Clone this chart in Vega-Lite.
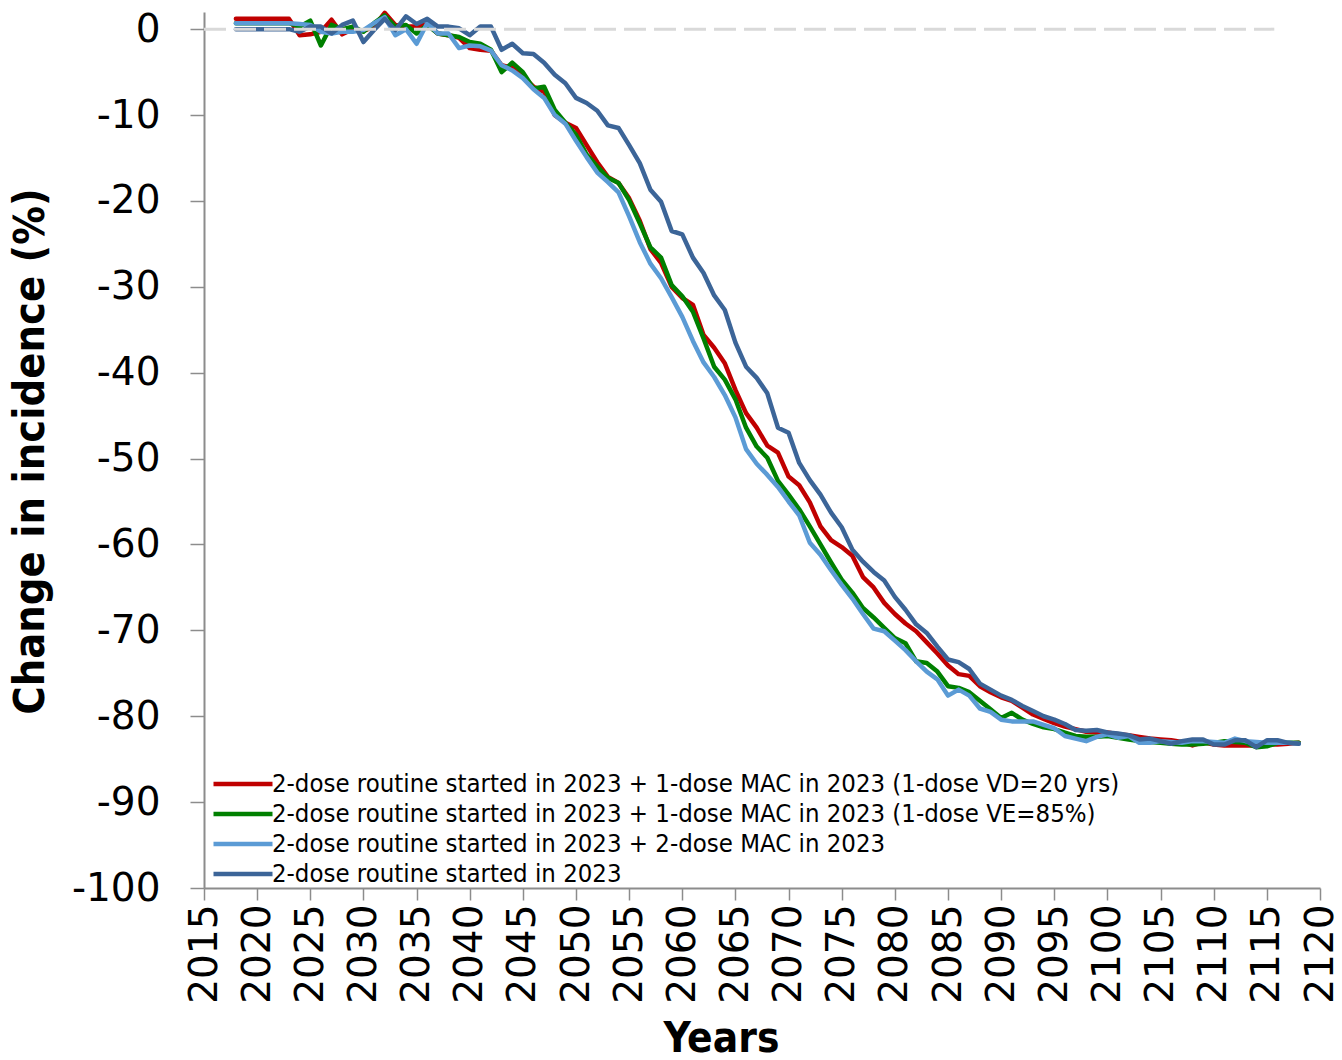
{
  "$schema": "https://vega.github.io/schema/vega-lite/v6.json",
  "width": 1116,
  "height": 876,
  "autosize": {"type": "none"},
  "padding": {"left": 204, "top": 12, "right": 22, "bottom": 172},
  "background": "white",
  "config": {"view": {"stroke": null}, "font": "DejaVu Sans"},
  "layer": [
    {
      "data": {"values": [
        {"year":2018,"a":1.2,"b":0.7,"c":0.7,"d":0.0},
        {"year":2019,"a":1.2,"b":0.7,"c":0.7,"d":0.0},
        {"year":2020,"a":1.2,"b":0.7,"c":0.7,"d":0.0},
        {"year":2021,"a":1.2,"b":0.7,"c":0.7,"d":0.0},
        {"year":2022,"a":1.2,"b":0.7,"c":0.7,"d":0.0},
        {"year":2023,"a":1.2,"b":0.7,"c":0.7,"d":0.0},
        {"year":2024,"a":-0.7,"b":0.3,"c":0.6,"d":-0.3},
        {"year":2025,"a":-0.6,"b":1.0,"c":0.5,"d":0.3},
        {"year":2026,"a":-0.3,"b":-1.9,"c":-0.3,"d":0.3},
        {"year":2027,"a":1.1,"b":0.5,"c":-0.5,"d":-0.5},
        {"year":2028,"a":-0.6,"b":0.0,"c":-0.3,"d":0.5},
        {"year":2029,"a":0.0,"b":0.3,"c":-0.3,"d":1.0},
        {"year":2030,"a":-0.2,"b":-0.3,"c":-0.1,"d":-1.5},
        {"year":2031,"a":0.3,"b":0.7,"c":0.7,"d":-0.1},
        {"year":2032,"a":1.9,"b":1.6,"c":1.4,"d":1.2},
        {"year":2033,"a":0.5,"b":0.3,"c":-0.7,"d":-0.1},
        {"year":2034,"a":0.3,"b":0.5,"c":0.0,"d":1.5},
        {"year":2035,"a":0.3,"b":-0.5,"c":-1.7,"d":0.6},
        {"year":2036,"a":0.6,"b":0.5,"c":0.7,"d":1.2},
        {"year":2037,"a":-0.5,"b":-0.5,"c":-0.5,"d":0.3},
        {"year":2038,"a":-0.7,"b":-0.7,"c":-0.5,"d":0.3},
        {"year":2039,"a":-1.0,"b":-0.9,"c":-2.2,"d":0.1},
        {"year":2040,"a":-2.2,"b":-1.5,"c":-1.9,"d":-0.7},
        {"year":2041,"a":-2.4,"b":-1.7,"c":-2.0,"d":0.3},
        {"year":2042,"a":-2.5,"b":-2.4,"c":-2.5,"d":0.3},
        {"year":2043,"a":-4.2,"b":-5.0,"c":-4.2,"d":-2.4},
        {"year":2044,"a":-4.5,"b":-3.9,"c":-4.8,"d":-1.7},
        {"year":2045,"a":-5.5,"b":-5.0,"c":-5.7,"d":-2.8},
        {"year":2046,"a":-6.7,"b":-6.9,"c":-7.0,"d":-2.9},
        {"year":2047,"a":-7.3,"b":-6.7,"c":-8.0,"d":-3.9},
        {"year":2048,"a":-10.0,"b":-9.4,"c":-10.0,"d":-5.3},
        {"year":2049,"a":-10.9,"b":-10.9,"c":-11.0,"d":-6.3},
        {"year":2050,"a":-11.5,"b":-12.3,"c":-13.0,"d":-8.0},
        {"year":2051,"a":-13.5,"b":-14.6,"c":-14.9,"d":-8.6},
        {"year":2052,"a":-15.5,"b":-16.0,"c":-16.7,"d":-9.5},
        {"year":2053,"a":-17.2,"b":-17.3,"c":-17.8,"d":-11.2},
        {"year":2054,"a":-17.9,"b":-17.9,"c":-19.0,"d":-11.5},
        {"year":2055,"a":-19.7,"b":-19.9,"c":-21.8,"d":-13.5},
        {"year":2056,"a":-22.3,"b":-22.6,"c":-24.8,"d":-15.6},
        {"year":2057,"a":-25.6,"b":-25.4,"c":-27.3,"d":-18.7},
        {"year":2058,"a":-27.2,"b":-26.6,"c":-29.0,"d":-20.1},
        {"year":2059,"a":-30.0,"b":-29.8,"c":-31.2,"d":-23.5},
        {"year":2060,"a":-31.3,"b":-31.1,"c":-33.5,"d":-23.9},
        {"year":2061,"a":-32.1,"b":-32.9,"c":-36.3,"d":-26.6},
        {"year":2062,"a":-35.6,"b":-36.0,"c":-38.8,"d":-28.4},
        {"year":2063,"a":-37.1,"b":-39.3,"c":-40.5,"d":-31.0},
        {"year":2064,"a":-38.9,"b":-40.8,"c":-42.6,"d":-32.7},
        {"year":2065,"a":-42.0,"b":-43.1,"c":-45.2,"d":-36.5},
        {"year":2066,"a":-44.7,"b":-46.4,"c":-48.9,"d":-39.3},
        {"year":2067,"a":-46.4,"b":-48.6,"c":-50.6,"d":-40.6},
        {"year":2068,"a":-48.5,"b":-49.9,"c":-51.9,"d":-42.4},
        {"year":2069,"a":-49.3,"b":-52.6,"c":-53.3,"d":-46.4},
        {"year":2070,"a":-52.1,"b":-54.2,"c":-55.0,"d":-47.0},
        {"year":2071,"a":-53.1,"b":-55.9,"c":-56.6,"d":-50.5},
        {"year":2072,"a":-55.1,"b":-57.9,"c":-59.8,"d":-52.5},
        {"year":2073,"a":-57.9,"b":-60.0,"c":-61.2,"d":-54.2},
        {"year":2074,"a":-59.5,"b":-62.1,"c":-63.0,"d":-56.3},
        {"year":2075,"a":-60.3,"b":-64.1,"c":-64.7,"d":-58.0},
        {"year":2076,"a":-61.3,"b":-65.6,"c":-66.3,"d":-60.6},
        {"year":2077,"a":-63.8,"b":-67.4,"c":-68.1,"d":-62.0},
        {"year":2078,"a":-65.0,"b":-68.5,"c":-69.8,"d":-63.2},
        {"year":2079,"a":-66.8,"b":-69.7,"c":-70.1,"d":-64.2},
        {"year":2080,"a":-68.1,"b":-70.9,"c":-71.2,"d":-66.1},
        {"year":2081,"a":-69.2,"b":-71.5,"c":-72.3,"d":-67.6},
        {"year":2082,"a":-70.1,"b":-73.6,"c":-73.6,"d":-69.3},
        {"year":2083,"a":-71.4,"b":-73.8,"c":-74.8,"d":-70.3},
        {"year":2084,"a":-72.7,"b":-74.8,"c":-75.7,"d":-71.9},
        {"year":2085,"a":-74.1,"b":-76.5,"c":-77.6,"d":-73.4},
        {"year":2086,"a":-75.1,"b":-76.7,"c":-76.9,"d":-73.7},
        {"year":2087,"a":-75.3,"b":-77.2,"c":-77.6,"d":-74.5},
        {"year":2088,"a":-76.5,"b":-78.2,"c":-79.1,"d":-76.2},
        {"year":2089,"a":-77.2,"b":-79.2,"c":-79.5,"d":-76.9},
        {"year":2090,"a":-77.8,"b":-80.2,"c":-80.4,"d":-77.6},
        {"year":2091,"a":-78.2,"b":-79.6,"c":-80.6,"d":-78.1},
        {"year":2092,"a":-79.0,"b":-80.4,"c":-80.6,"d":-78.8},
        {"year":2093,"a":-79.8,"b":-80.9,"c":-80.6,"d":-79.4},
        {"year":2094,"a":-80.3,"b":-81.3,"c":-81.0,"d":-80.0},
        {"year":2095,"a":-80.8,"b":-81.5,"c":-81.4,"d":-80.4},
        {"year":2096,"a":-81.2,"b":-81.9,"c":-82.3,"d":-80.9},
        {"year":2097,"a":-81.5,"b":-82.3,"c":-82.6,"d":-81.6},
        {"year":2098,"a":-81.8,"b":-82.4,"c":-82.9,"d":-81.7},
        {"year":2099,"a":-81.9,"b":-82.4,"c":-82.4,"d":-81.6},
        {"year":2100,"a":-81.9,"b":-82.3,"c":-82.1,"d":-81.9},
        {"year":2101,"a":-82.1,"b":-82.5,"c":-82.5,"d":-82.0},
        {"year":2102,"a":-82.2,"b":-82.7,"c":-82.3,"d":-82.2},
        {"year":2103,"a":-82.4,"b":-82.9,"c":-83.1,"d":-82.7},
        {"year":2104,"a":-82.6,"b":-83.0,"c":-83.1,"d":-82.6},
        {"year":2105,"a":-82.7,"b":-83.1,"c":-82.9,"d":-82.9},
        {"year":2106,"a":-82.8,"b":-83.2,"c":-83.0,"d":-83.2},
        {"year":2107,"a":-83.0,"b":-83.3,"c":-83.1,"d":-82.9},
        {"year":2108,"a":-83.4,"b":-83.3,"c":-82.9,"d":-82.7},
        {"year":2109,"a":-83.0,"b":-83.2,"c":-82.9,"d":-82.7},
        {"year":2110,"a":-83.3,"b":-83.1,"c":-83.0,"d":-83.3},
        {"year":2111,"a":-83.4,"b":-82.9,"c":-83.1,"d":-83.3},
        {"year":2112,"a":-83.4,"b":-83.0,"c":-82.6,"d":-82.8},
        {"year":2113,"a":-83.4,"b":-83.1,"c":-82.9,"d":-82.8},
        {"year":2114,"a":-83.4,"b":-83.6,"c":-83.0,"d":-83.6},
        {"year":2115,"a":-83.3,"b":-83.5,"c":-83.1,"d":-82.8},
        {"year":2116,"a":-83.3,"b":-83.1,"c":-83.1,"d":-82.8},
        {"year":2117,"a":-83.2,"b":-83.1,"c":-83.1,"d":-83.1},
        {"year":2118,"a":-83.1,"b":-83.1,"c":-83.2,"d":-83.2}
      ]},
      "transform": [{"fold": ["a", "b", "c", "d"], "as": ["series", "value"]}],
      "mark": {"type": "line", "strokeWidth": 4.5, "strokeJoin": "round", "strokeCap": "round"},
      "encoding": {
        "x": {
          "field": "year", "type": "quantitative",
          "scale": {"domain": [2015, 2120], "nice": false, "zero": false},
          "axis": {
            "values": [2015,2020,2025,2030,2035,2040,2045,2050,2055,2060,2065,2070,2075,2080,2085,2090,2095,2100,2105,2110,2115,2120],
            "format": "d",
            "grid": false,
            "labelAngle": -90,
            "labelFont": "DejaVu Sans",
            "labelFontSize": 39,
            "labelColor": "black",
            "labelPadding": 4,
            "labelFlush": false,
            "labelOverlap": false,
            "labelBound": false,
            "tickSize": 12,
            "tickWidth": 1.5,
            "tickColor": "#8c8c8c",
            "domainColor": "#8c8c8c",
            "domainWidth": 2,
            "title": "Years",
            "titleFont": "DejaVu Sans Condensed",
            "titleFontWeight": "bold",
            "titleFontSize": 42,
            "titleColor": "black",
            "titleX": 517,
            "titleY": 163,
            "titleAlign": "center",
            "titleBaseline": "alphabetic"
          }
        },
        "y": {
          "field": "value", "type": "quantitative",
          "scale": {"domain": [-100, 2], "nice": false, "zero": false},
          "axis": {
            "values": [-100,-90,-80,-70,-60,-50,-40,-30,-20,-10,0],
            "labelExpr": "datum.value < 0 ? '-' + abs(datum.value) : '' + datum.value",
            "grid": false,
            "labelFont": "DejaVu Sans",
            "labelFontSize": 39,
            "labelColor": "black",
            "labelPadding": 30,
            "labelFlush": false,
            "labelOverlap": false,
            "tickSize": 14,
            "tickWidth": 1.5,
            "tickColor": "#8c8c8c",
            "domainColor": "#8c8c8c",
            "domainWidth": 2,
            "title": "Change in incidence (%)",
            "titleFont": "DejaVu Sans Condensed",
            "titleFontWeight": "bold",
            "titleFontSize": 43,
            "titleColor": "black",
            "titleAngle": -90,
            "titleX": -161,
            "titleY": 439,
            "titleAlign": "center",
            "titleBaseline": "alphabetic"
          }
        },
        "color": {
          "field": "series", "type": "nominal",
          "scale": {"domain": ["a", "b", "c", "d"], "range": ["#c00000", "#008000", "#5b9bd5", "#3c6598"]},
          "legend": {
            "title": null,
            "orient": "none",
            "legendX": 7,
            "legendY": 759,
            "padding": 0,
            "symbolType": "stroke",
            "symbolSize": 3481,
            "symbolStrokeWidth": 4.5,
            "clipHeight": 26,
            "labelFont": "DejaVu Sans Condensed",
            "labelFontSize": 25.5,
            "labelColor": "black",
            "labelLimit": 0,
            "labelOffset": -3,
            "rowPadding": 3,
            "labelExpr": "datum.value == 'a' ? '2-dose routine started in 2023 + 1-dose MAC in 2023 (1-dose VD=20 yrs)' : datum.value == 'b' ? '2-dose routine started in 2023 + 1-dose MAC in 2023 (1-dose VE=85%)' : datum.value == 'c' ? '2-dose routine started in 2023 + 2-dose MAC in 2023' : '2-dose routine started in 2023'"
          }
        }
      }
    },
    {
      "data": {"values": [{"from": 2015, "to": 2115.7, "zero": 0}]},
      "mark": {"type": "rule", "color": "#d9d9d9", "strokeWidth": 3, "strokeDash": [22, 8]},
      "encoding": {
        "x": {"field": "from", "type": "quantitative"},
        "x2": {"field": "to"},
        "y": {"field": "zero", "type": "quantitative"}
      }
    }
  ]
}
